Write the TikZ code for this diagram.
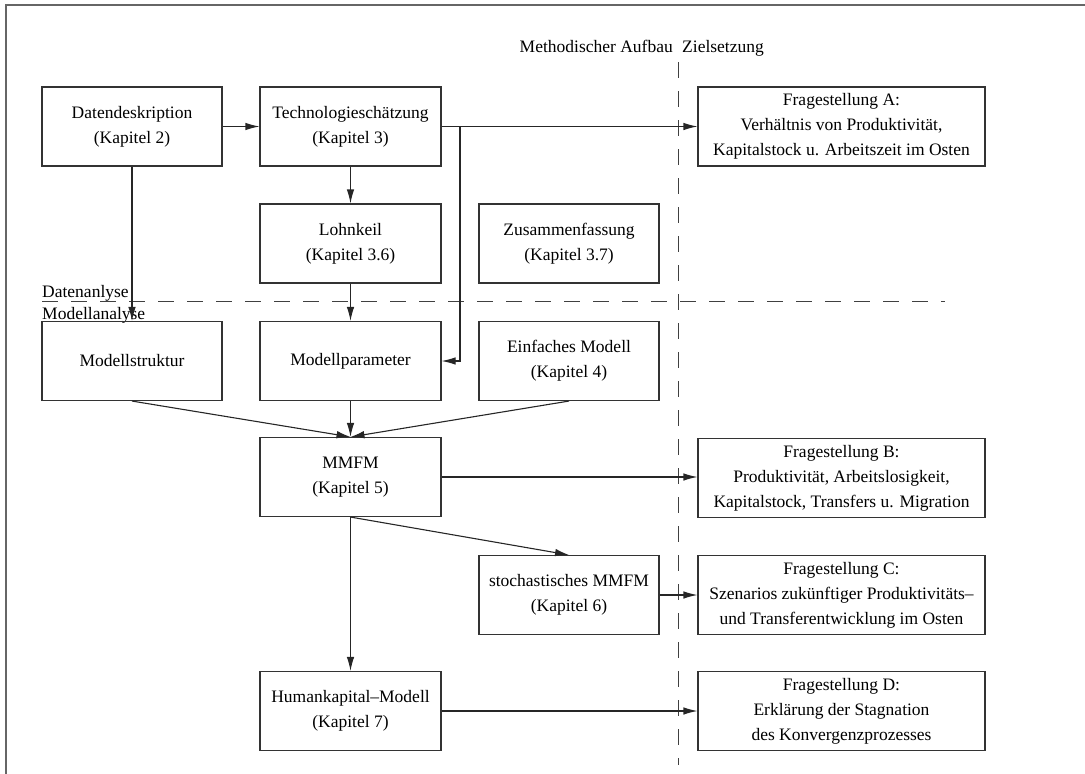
\documentclass[tikz,border=0pt]{standalone}
\usepackage{fontspec}
\setmainfont{Liberation Serif}
\usetikzlibrary{arrows.meta}
\tikzset{
  box/.style={draw=black!80, line width=1.1pt, align=center, inner sep=2pt,
    font=\fontsize{17.5}{25}\selectfont},
  sbox/.style={box, minimum width=180pt, minimum height=79pt},
  wbox/.style={box, minimum width=287pt, minimum height=79pt},
  conn/.style={draw=black!85, line width=1.1pt},
  arr/.style={conn, -{Latex[length=14pt,width=7.5pt]}},
  sep/.style={draw=black!75, line width=1.1pt, dash pattern=on 16pt off 13pt},
  lbl/.style={font=\fontsize{17.5}{25}\selectfont, inner sep=0pt},
}
\begin{document}
\begin{tikzpicture}[x=1pt,y=-1pt]
\useasboundingbox (0,0) rectangle (1085,774);
% frame
\draw[draw=black!60, line width=2pt] (1085,5) -- (6,5) -- (6,774);
% separators
\draw[sep] (678.5,62) -- (678.5,765);
\draw[sep] (42,301.5) -- (945,301.5);
\node[lbl, anchor=base east] (mab) at (673,52) {Methodischer Aufbau};
\node[lbl, anchor=base west] (zs) at (682,52) {Zielsetzung};
\node[lbl, anchor=base west] (da) at (42,297) {Datenanlyse};
\node[lbl, anchor=base west] (ma) at (42,319) {Modellanalyse};
% boxes
\node[sbox] (dd) at (132,126.5) {Datendeskription\\(Kapitel 2)};
\node[sbox, minimum width=181pt] (ts) at (350.5,126.5) {Technologieschätzung\\(Kapitel 3)};
\node[sbox, minimum width=181pt] (lk) at (350.5,243.5) {Lohnkeil\\(Kapitel 3.6)};
\node[sbox] (zf) at (569,243.5) {Zusammenfassung\\(Kapitel 3.7)};
\node[sbox] (ms) at (132,361) {Modellstruktur};
\node[sbox, minimum width=181pt] (mp) at (350.5,361) {Modellparameter};
\node[sbox] (em) at (569,361) {Einfaches Modell\\(Kapitel 4)};
\node[sbox, minimum width=181pt] (mm) at (350.5,477) {MMFM\\(Kapitel 5)};
\node[sbox] (sm) at (569,595) {stochastisches MMFM\\(Kapitel 6)};
\node[sbox, minimum width=181pt] (hk) at (350.5,711) {Humankapital--Modell\\(Kapitel 7)};
\node[wbox] (fa) at (841.5,126.5) {Fragestellung A:\\Verhältnis von Produktivität,\\Kapitalstock u. Arbeitszeit im Osten};
\node[wbox] (fb) at (841.5,478) {Fragestellung B:\\Produktivität, Arbeitslosigkeit,\\Kapitalstock, Transfers u. Migration};
\node[wbox] (fc) at (841.5,595) {Fragestellung C:\\Szenarios zukünftiger Produktivitäts--\\und Transferentwicklung im Osten};
\node[wbox] (fd) at (841.5,711) {Fragestellung D:\\Erklärung der Stagnation\\des Konvergenzprozesses};
% connectors
\coordinate (br) at (460,126.5);
\draw[arr] (dd) -- (ts);
\draw[arr] (ts.east) -- (fa.west);
\draw[arr] (br) |- (mp.east);
\draw[arr] (ts) -- (lk);
\draw[arr] (lk) -- (mp);
\draw[arr] (dd) -- (ms);
\draw[arr] (ms.south) -- (mm.north);
\draw[arr] (mp) -- (mm);
\draw[arr] (em.south) -- (mm.north);
\draw[arr] (mm.east) -- (mm.east -| fb.west);
\draw[arr] (mm.south) -- (sm.north);
\draw[arr] (mm) -- (hk);
\draw[arr] (sm) -- (fc);
\draw[arr] (hk) -- (fd);
\end{tikzpicture}
\end{document}
